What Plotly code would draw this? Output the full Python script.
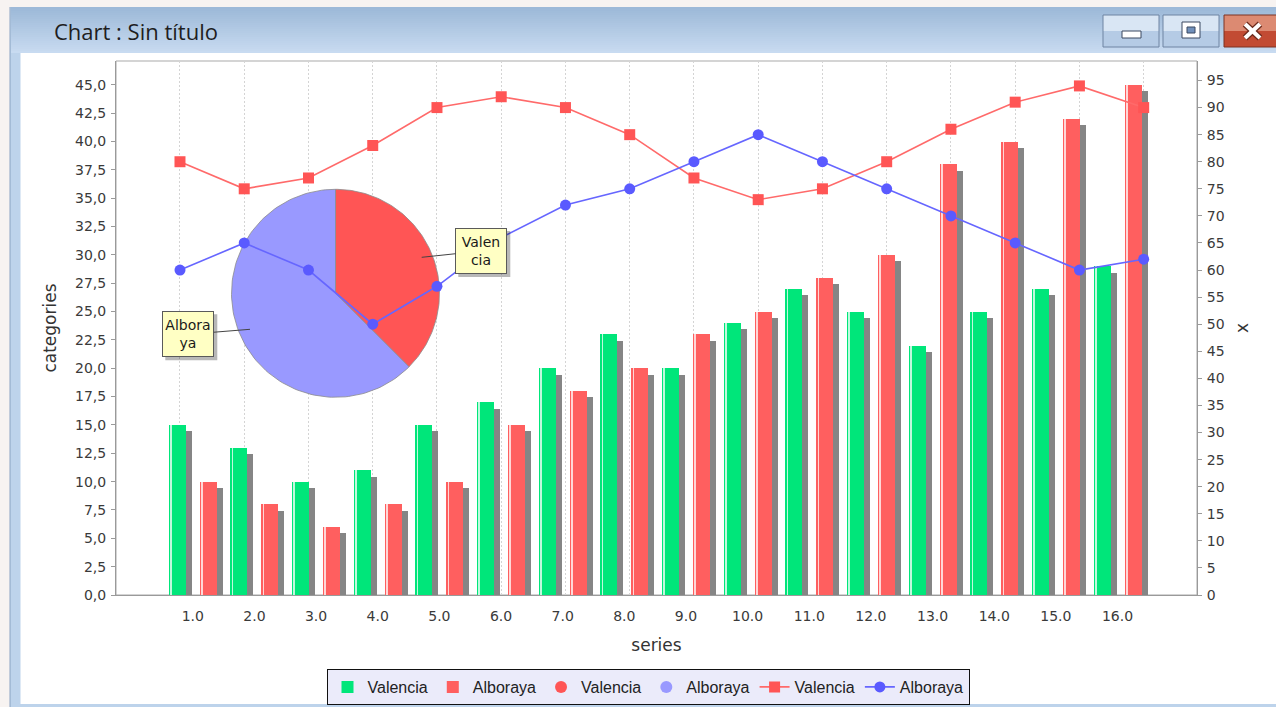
import numpy as np
import plotly.graph_objects as go

# ---------------- data ----------------
series = list(range(1, 17))
category_labels = [f"{i}.0" for i in series]
valencia_bars = [15, 13, 10, 11, 15, 17, 20, 23, 20, 24, 27, 25, 22, 25, 27, 29]
alboraya_bars = [10, 8, 6, 8, 10, 15, 18, 20, 23, 25, 28, 30, 38, 40, 42, 45]
valencia_line = [80, 75, 77, 83, 90, 92, 90, 85, 77, 73, 75, 80, 86, 91, 94, 90]
alboraya_line = [60, 65, 60, 50, 57, 66, 72, 75, 80, 85, 80, 75, 70, 65, 60, 62]
pie_labels = ["Valencia", "Alboraya"]
pie_values = [3, 5]
left_tick_vals = [i * 2.5 for i in range(19)]
left_tick_text = [f"{v:.1f}".replace(".", ",") for v in left_tick_vals]
right_tick_vals = list(range(0, 96, 5))
right_tick_text = [str(v) for v in right_tick_vals]
pie_label_text = {"Valencia": "Valen<br>cia", "Alboraya": "Albora<br>ya"}

# ---------------- layout constants (pixels) ----------------
W, H = 1276, 707
PL, PT, PR, PB = 116, 61, 1197, 595
PW, PH = PR - PL, PB - PT
XCAT = [-0.245, 17.289]
PPU = PW / (XCAT[1] - XCAT[0])          # px per category
Y_LEFT_MAX = 47.1
Y_RIGHT_MAX = 98.6
PX_PER_LEFT = PH / Y_LEFT_MAX


def X(px):
    return (px - PL) / PW


def Y(py):
    return (PB - py) / PH


GREEN = "#00e67a"
RED = "#ff5f5f"
SHADOW = "#858585"
BAR_W = 17 / PPU
OFF_G = -24 / PPU
OFF_R = 7 / PPU
SH_DX = 6 / PPU
SH_DY = 6.5 / PX_PER_LEFT

fig = go.Figure()

# ---- shadows ----
for vals, off in ((valencia_bars, OFF_G), (alboraya_bars, OFF_R)):
    fig.add_trace(go.Bar(x=series, y=[v - SH_DY for v in vals], width=BAR_W,
                         offset=off + SH_DX, marker=dict(color=SHADOW, line=dict(width=0)),
                         showlegend=False, hoverinfo="skip"))
# ---- bars ----
fig.add_trace(go.Bar(x=series, y=valencia_bars, width=BAR_W, offset=OFF_G, name="Valencia",
                     marker=dict(color=GREEN, line=dict(width=0))))
fig.add_trace(go.Bar(x=series, y=alboraya_bars, width=BAR_W, offset=OFF_R, name="Alboraya",
                     marker=dict(color=RED, line=dict(width=0))))
# ---- highlight stripes (gradient look) ----
for vals, off in ((valencia_bars, OFF_G), (alboraya_bars, OFF_R)):
    fig.add_trace(go.Bar(x=series, y=vals, width=1.6 / PPU, offset=off + 1.4 / PPU,
                         marker=dict(color="rgba(255,255,255,0.75)", line=dict(width=0)),
                         showlegend=False, hoverinfo="skip"))

# ---- pie (drawn as filled polygons on a pixel-scaled overlay axis) ----
PIE_CX, PIE_CY, PIE_R = 335.5 - PL, PB - 293.3, 104
pie_colors = ["#ff5555", "#9999ff"]
total = sum(pie_values)
start = 0.0
for lab, val, col in zip(pie_labels, pie_values, pie_colors):
    frac = val / total
    t = np.linspace(start, start + frac, 120)
    ang = np.pi / 2 - 2 * np.pi * t
    xs = np.concatenate([[PIE_CX], PIE_CX + PIE_R * np.cos(ang), [PIE_CX]])
    ys = np.concatenate([[PIE_CY], PIE_CY + PIE_R * np.sin(ang), [PIE_CY]])
    fig.add_trace(go.Scatter(x=xs, y=ys, xaxis="x2", yaxis="y2", mode="lines", fill="toself",
                             fillcolor=col, line=dict(color="#8c8c8c", width=0.8),
                             showlegend=False, hoverinfo="skip"))
    start += frac
# legend entries for the pie
for lab, col in zip(pie_labels, pie_colors):
    fig.add_trace(go.Scatter(x=[None], y=[None], xaxis="x2", yaxis="y2", mode="markers",
                             marker=dict(symbol="circle", size=12, color=col), name=lab))

# ---- lines ----
fig.add_trace(go.Scatter(x=series, y=valencia_line, xaxis="x3", yaxis="y3", mode="lines+markers",
                         name="Valencia", line=dict(color="#ff6a6a", width=1.6),
                         marker=dict(symbol="square", size=11, color="#ff5555")))
fig.add_trace(go.Scatter(x=series, y=alboraya_line, xaxis="x3", yaxis="y3", mode="lines+markers",
                         name="Alboraya", line=dict(color="#6666ff", width=1.6),
                         marker=dict(symbol="circle", size=11, color="#5a5aff")))

# ---------------- window chrome (shapes) ----------------
shapes = []


def rect(x0, y0, x1, y1, fill, line=None, lw=1, layer="below"):
    shapes.append(dict(type="rect", xref="paper", yref="paper", x0=X(x0), x1=X(x1),
                       y0=Y(y0), y1=Y(y1), fillcolor=fill, layer=layer,
                       line=dict(color=line or "rgba(0,0,0,0)", width=lw if line else 0)))


def seg(x0, y0, x1, y1, color, w, layer="above"):
    shapes.append(dict(type="line", xref="paper", yref="paper", x0=X(x0), x1=X(x1),
                       y0=Y(y0), y1=Y(y1), layer=layer, line=dict(color=color, width=w)))


# window frame
rect(10, 7, 1290, 720, "#bdd3eb")
# title bar gradient
c0, c1 = np.array([157, 185, 216]), np.array([200, 219, 241])
nb = 23
for i in range(nb):
    c = (c0 + (c1 - c0) * i / (nb - 1)).astype(int)
    rect(11, 7 + i * 2, 1290, 9 + i * 2, f"rgb({c[0]},{c[1]},{c[2]})")
seg(10, 7, 10, 707, "#8aa3c2", 1, layer="below")
# white content
rect(20.5, 53, 1290, 704, "#ffffff")
# plot frame
rect(PL, PT, PR, PB, "rgba(0,0,0,0)", line="#a9a9a9", lw=1)

# buttons
for bx0, bx1 in ((1103, 1159), (1163, 1219)):
    rect(bx0, 15, bx1, 31, "#d9e6f4")
    rect(bx0, 31, bx1, 47, "#b5cbe5")
    rect(bx0, 15, bx1, 47, "rgba(0,0,0,0)", line="#6f84a2", lw=1)
rect(1122, 31, 1141, 38, "#ffffff", line="#3b4860", lw=1)
rect(1182, 22, 1200, 38, "#ffffff", line="#3b4860", lw=1)
rect(1187, 27, 1195, 33, "#7090bb", line="#3b4860", lw=1)
rect(1224, 15, 1290, 31, "#dc8a72")
rect(1224, 31, 1290, 47, "#c24b33")
rect(1224, 15, 1290, 47, "rgba(0,0,0,0)", line="#7c3222", lw=1)
seg(1245, 24, 1260, 38, "#6b2a1c", 6.5, layer="below")
seg(1245, 38, 1260, 24, "#6b2a1c", 6.5, layer="below")
seg(1245, 24, 1260, 38, "#ffffff", 4, layer="below")
seg(1245, 38, 1260, 24, "#ffffff", 4, layer="below")

# pie label boxes shadows
boxes = {"Valencia": (481.3, 251.0, 305.7, 337.7), "Alboraya": (188.3, 334.3, 134.0, 265.7)}
BW2, BH2 = 26, 23
for lab, (bcx, bcy, _, _) in boxes.items():
    rect(bcx - BW2 + 3, bcy - BH2 + 3, bcx + BW2 + 3, bcy + BH2 + 3, "rgba(0,0,0,0.28)", layer="above")

annotations = [
    dict(text="Chart : Sin título", xref="paper", yref="paper", x=X(52), y=Y(31),
         xanchor="left", yanchor="middle", showarrow=False,
         font=dict(family="Open Sans", size=22, color="#1e1e1e")),
]
for lab, (bcx, bcy, ax_, ay_) in boxes.items():
    px_pt = ax_ + PL
    py_pt = PB - ay_
    annotations.append(dict(
        text=pie_label_text[lab], xref="x2", yref="y2", x=ax_, y=ay_,
        ax=bcx - px_pt, ay=bcy - py_pt, axref="pixel", ayref="pixel",
        showarrow=True, arrowhead=0, arrowwidth=1, arrowcolor="#444", standoff=0,
        bgcolor="#ffffc4", bordercolor="#5a5a5a", borderwidth=1, borderpad=2,
        width=2 * BW2 - 6, height=2 * BH2 - 6, align="center",
        font=dict(family="DejaVu Sans", size=14, color="#1a1a1a")))

TICKFONT = dict(family="DejaVu Sans", size=14, color="#3a3a3a")
TITLEFONT = dict(family="DejaVu Sans", size=17, color="#333")

fig.update_layout(
    width=W, height=H,
    margin=dict(l=PL, r=W - PR, t=PT, b=H - PB, pad=0, autoexpand=False),
    paper_bgcolor="#f7f3f1", plot_bgcolor="rgba(0,0,0,0)",
    barmode="overlay", bargap=0,
    showlegend=True,
    legend=dict(orientation="h", x=X(648), xanchor="center", y=Y(669), yanchor="top",
                bgcolor="#ebebfa", bordercolor="#111", borderwidth=1,
                font=dict(family="Liberation Sans", size=16, color="#222"),
                itemwidth=30, tracegroupgap=0),
    xaxis=dict(range=XCAT, tickvals=series, ticktext=category_labels, tickfont=TICKFONT,
               showgrid=False, zeroline=False, showline=True, linecolor="#9a9a9a",
               ticks="", ticklabelstandoff=8,
               title=dict(text="series", font=TITLEFONT, standoff=16)),
    yaxis=dict(range=[0, Y_LEFT_MAX], tickvals=left_tick_vals, ticktext=left_tick_text,
               tickfont=TICKFONT, showgrid=False, zeroline=False, showline=True,
               linecolor="#9a9a9a", ticks="outside", ticklen=4, tickcolor="#9a9a9a",
               ticklabelstandoff=2,
               title=dict(text="categories", font=TITLEFONT, standoff=14)),
    xaxis2=dict(range=[0, PW], overlaying="x", visible=False, fixedrange=True),
    yaxis2=dict(range=[0, PH], overlaying="y", anchor="x2", visible=False, fixedrange=True),
    xaxis3=dict(range=[0.004, 16.83], overlaying="x", anchor="y3", showticklabels=False,
                ticks="", showgrid=True, gridcolor="#d4d4d4", griddash="2px,2px", gridwidth=1,
                tickvals=series, zeroline=False, showline=False),
    yaxis3=dict(range=[0, Y_RIGHT_MAX], overlaying="y", side="right", anchor="x3",
                tickvals=right_tick_vals, ticktext=right_tick_text, tickfont=TICKFONT,
                showgrid=False, zeroline=False, showline=True, linecolor="#9a9a9a",
                ticks="outside", ticklen=4, tickcolor="#9a9a9a", ticklabelstandoff=2,
                title=dict(text="x", font=TITLEFONT, standoff=12)),
    shapes=shapes,
    annotations=annotations,
)

fig.write_html("out.html", config={"displayModeBar": False},
               post_script="document.body.style.margin='0';document.body.style.overflow='hidden';")
